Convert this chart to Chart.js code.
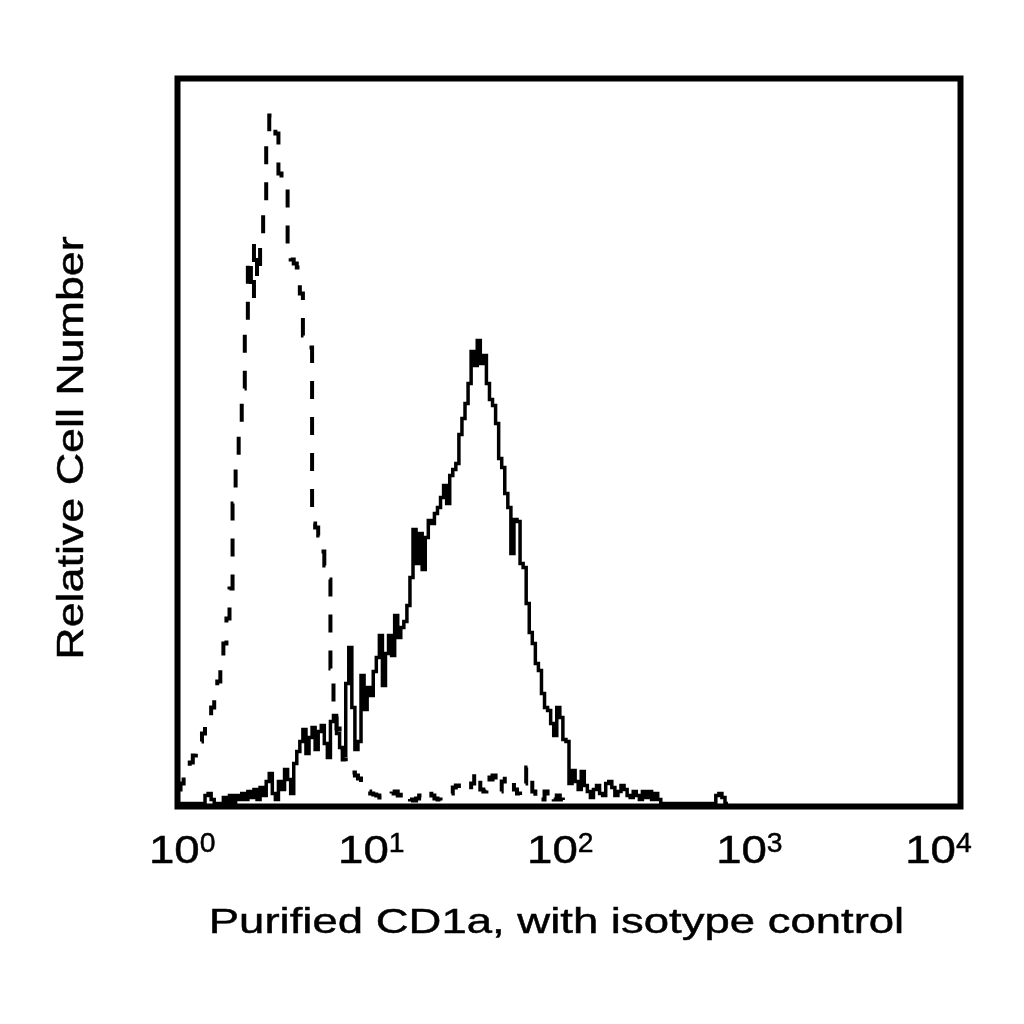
<!DOCTYPE html>
<html>
<head>
<meta charset="utf-8">
<title>Purified CD1a, with isotype control</title>
<script src="https://cdn.jsdelivr.net/npm/chart.js@4.4.1/dist/chart.umd.min.js"></script>
<style>
  html, body { margin: 0; padding: 0; background: #fff; }
  #wrap { width: 1024px; height: 1024px; }
</style>
</head>
<body>
<div id="wrap"><canvas id="histChart" width="1024" height="1024"></canvas></div>
<script>
// Histogram counts per channel (256 channels span 4 decades, 64 per decade)
const isotypeCounts = [
  14, 20, 28, 36, 41, 48, 55, 62, 70, 78,
  88, 96, 110, 122, 138, 160, 185, 215, 300, 340,
  380, 415, 470, 545, 505, 560, 525, 563, 590, 660,
  688, 688, 670, 630, 622, 618, 546, 544, 540, 536,
  510, 468, 462, 456, 280, 276, 268, 252, 238, 224,
  135, 100, 75, 55, 44, 38, 34, 31, 28, 25,
  20, 16, 12, 10, 9, 8, 6, 5, 4, 6,
  10, 12, 8, 12, 10, 6, 4, 3, 5, 8,
  12, 10, 12, 8, 5, 4, 3, 5, 8, 10,
  16, 18, 15, 14, 12, 14, 20, 32, 30, 14,
  12, 28, 24, 28, 14, 12, 22, 28, 26, 22,
  14, 10, 8, 20, 36, 34, 12, 6, 10, 4,
  12, 6, 10, 4, 8, 4, 0, 0
];
const cd1aCounts = [
  0, 0, 0, 0, 0, 0, 0, 0, 0, 8,
  10, 4, 0, 0, 0, 6, 0, 8, 0, 8,
  4, 10, 4, 12, 6, 14, 4, 16, 8, 22,
  30, 10, 4, 22, 14, 34, 24, 10, 40, 52,
  62, 74, 50, 66, 76, 54, 72, 78, 60, 46,
  82, 88, 70, 56, 48, 120, 156, 96, 54, 62,
  128, 94, 116, 108, 132, 146, 168, 118, 150, 168,
  148, 188, 166, 176, 182, 198, 226, 274, 240, 270,
  234, 266, 283, 280, 290, 296, 306, 318, 300, 328,
  334, 340, 369, 385, 400, 420, 452, 438, 463, 440,
  448, 420, 404, 398, 380, 345, 336, 310, 296, 250,
  284, 282, 240, 236, 200, 171, 160, 140, 133, 110,
  96, 93, 80, 68, 96, 86, 64, 62, 20, 33,
  22, 14, 32, 18, 12, 6, 14, 18, 10, 8,
  20, 22, 16, 8, 12, 18, 14, 8, 6, 12,
  8, 4, 12, 6, 12, 4, 10, 4, 0, 0,
  0, 0, 0, 0, 0, 0, 0, 0, 0, 0,
  0, 0, 0, 0, 0, 0, 8, 10, 6, 0,
  0
];
const channelsPerDecade = 64;
const tickExponents = [0, 1, 2, 3, 4];
const xTitle = 'Purified CD1a, with isotype control';
const yTitle = 'Relative Cell Number';

const FONT = '"Liberation Sans", Arial, Helvetica, sans-serif';

function toPoints(counts) {
  // channel index -> fluorescence intensity on the log axis
  return counts.map((v, ch) => ({ x: Math.pow(10, ch / channelsPerDecade), y: v }));
}

function drawText(ctx, text, x, y, size, stretch, align, rotate) {
  ctx.save();
  ctx.translate(x, y);
  if (rotate) ctx.rotate(-Math.PI / 2);
  ctx.scale(stretch, 1);
  ctx.font = size + 'px ' + FONT;
  ctx.fillStyle = '#000';
  ctx.strokeStyle = '#000';
  ctx.lineWidth = 0.45;
  ctx.textAlign = align;
  ctx.textBaseline = 'alphabetic';
  ctx.fillText(text, 0, 0);
  ctx.strokeText(text, 0, 0);
  ctx.restore();
}

// frame box + tick labels with superscripts + axis titles
const decorPlugin = {
  id: 'decor',
  afterDatasetsDraw(chart) {
    const { ctx, chartArea: a } = chart;
    ctx.save();
    ctx.strokeStyle = '#000';
    ctx.lineWidth = 6;
    ctx.strokeRect(a.left, a.top, a.right - a.left, a.bottom - a.top);
    ctx.restore();
  },
  afterDraw(chart) {
    const { ctx } = chart;
    const xs = chart.scales.x;
    const baseSize = 38, baseStretch = 1.2;
    const supSize = 27;
    tickExponents.forEach((e, i) => {
      const px = xs.getPixelForValue(Math.pow(10, e));
      const start = px - 28.5 - 6.7 * i;
      drawText(ctx, '10', start, 863, baseSize, baseStretch, 'left', false);
      ctx.save();
      ctx.font = baseSize + 'px ' + FONT;
      const w = ctx.measureText('10').width * baseStretch;
      ctx.restore();
      drawText(ctx, String(e), start + w, 852, supSize, 1.05, 'left', false);
    });
    drawText(ctx, xTitle, 556.5, 933, 35, 1.3, 'center', false);
    drawText(ctx, yTitle, 83, 448, 36, 1.245, 'center', true);
  }
};

const ctx = document.getElementById('histChart').getContext('2d');
new Chart(ctx, {
  type: 'line',
  data: {
    datasets: [
      {
        label: 'Isotype control',
        data: toPoints(isotypeCounts),
        stepped: true,
        borderColor: '#000',
        borderWidth: 4,
        borderDash: [18, 18],
        borderCapStyle: 'butt',
        borderJoinStyle: 'miter',
        pointRadius: 0,
        fill: false
      },
      {
        label: 'Purified CD1a',
        data: toPoints(cd1aCounts),
        stepped: true,
        borderColor: '#000',
        borderWidth: 3.5,
        borderJoinStyle: 'miter',
        pointRadius: 0,
        fill: false
      }
    ]
  },
  options: {
    responsive: false,
    animation: false,
    devicePixelRatio: 1,
    layout: { padding: { left: 177.5, top: 78.5, right: 63.5, bottom: 217.5 } },
    plugins: {
      legend: { display: false },
      tooltip: { enabled: false }
    },
    scales: {
      x: { type: 'logarithmic', min: 1, max: 10000, display: false },
      y: { type: 'linear', min: -3, max: 725, display: false }
    }
  },
  plugins: [decorPlugin]
});
</script>
</body>
</html>
